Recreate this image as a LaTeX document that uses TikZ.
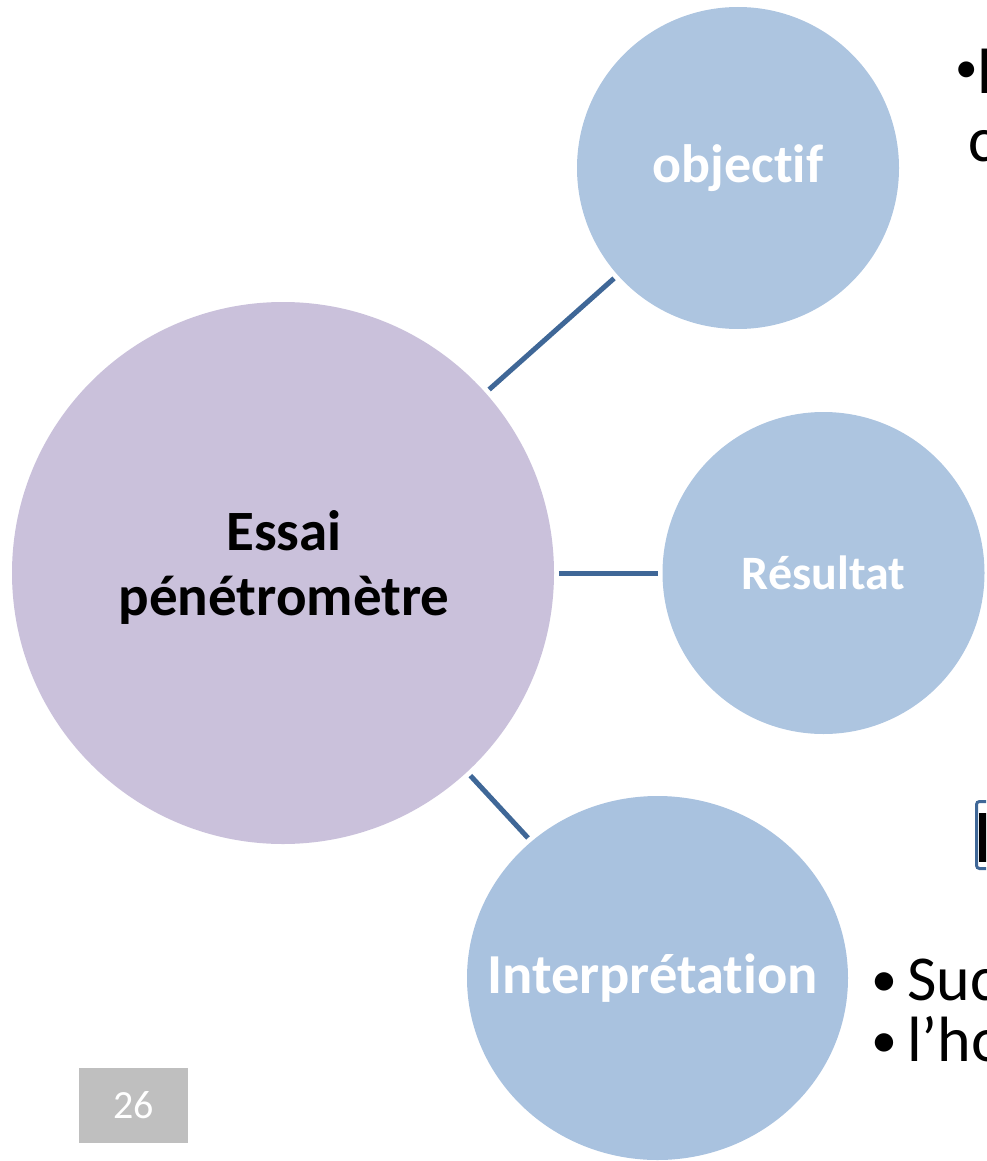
\documentclass[tikz,border=0pt]{standalone}
\usepackage{fontspec}
\setmainfont{Carlito}[Ligatures=NoCommon]
\usetikzlibrary{shapes.geometric}
\definecolor{lav}{HTML}{CAC1DB}
\definecolor{bub}{HTML}{ADC5E0}
\definecolor{bubb}{HTML}{A9C2DF}
\definecolor{lnk}{HTML}{3F6797}
\definecolor{pg}{HTML}{BFBFBF}
\newcommand{\mybul}[2]{{\fontsize{#1}{#1}\selectfont\raisebox{#2}{•}}}
\begin{document}
\begin{tikzpicture}[x=1pt,y=-1pt,
  hub/.style={circle, fill=lav, minimum size=542pt, inner sep=0pt, outer sep=0pt},
  bubble/.style={circle, fill=bub, minimum size=322pt, inner sep=0pt, outer sep=0pt,
    text=white, font=\bfseries\fontsize{54}{60}\selectfont},
  link/.style={draw=lnk, line width=5pt, shorten <=5pt, shorten >=5pt},
  side/.style={anchor=base west, font=\fontsize{64}{70}\selectfont, inner sep=0pt, text=black}]
\useasboundingbox (0,0) rectangle (986,1161);
\clip (0,0) rectangle (986,1161);
\node[hub] (hub) at (283,573) {};
\node (hubtext) at (284,567) [align=center, inner sep=0pt, font=\bfseries\fontsize{57}{65}\selectfont] {Essai\\pénétromètre};
\node[bubble] (obj) at (738,168) {objectif};
\node[bubble, font=\bfseries\fontsize{48}{56}\selectfont] (res) at (823.5,573) {Résultat};
\node[ellipse, fill=bubb, minimum width=381pt, minimum height=364pt, inner sep=0pt, outer sep=0pt] (int) at (657.5,978) {};
\node[text=white, inner sep=0pt, font=\bfseries\fontsize{56.5}{64}\selectfont] (inttext) at (652.5,978) {Interprétation};
\draw[link] (hub) -- (obj);
\draw[link] (hub) -- (res);
\draw[link] (hub) -- (int);
\node[side] (t1) at (955,94) {\mybul{45}{11pt}l};
\node[side] (t2) at (968,162) {c};
\draw[draw=lnk, line width=3pt, rounded corners=3pt] (976.5,801.5) rectangle (1000,868.5);
\fill[black] (979,813) rectangle (1000,862);
\node[side] (t3) at (871,1000) {\mybul{52}{4pt}\hspace{10pt}Suc};
\node[side] (t4) at (871,1061) {\mybul{52}{4pt}\hspace{10pt}l’ho};
\node[fill=pg, minimum width=109pt, minimum height=75pt, inner sep=0pt, text=white,
  font=\fontsize{40}{48}\selectfont] (pn) at (133.5,1105.5) {26};
\end{tikzpicture}
\end{document}
